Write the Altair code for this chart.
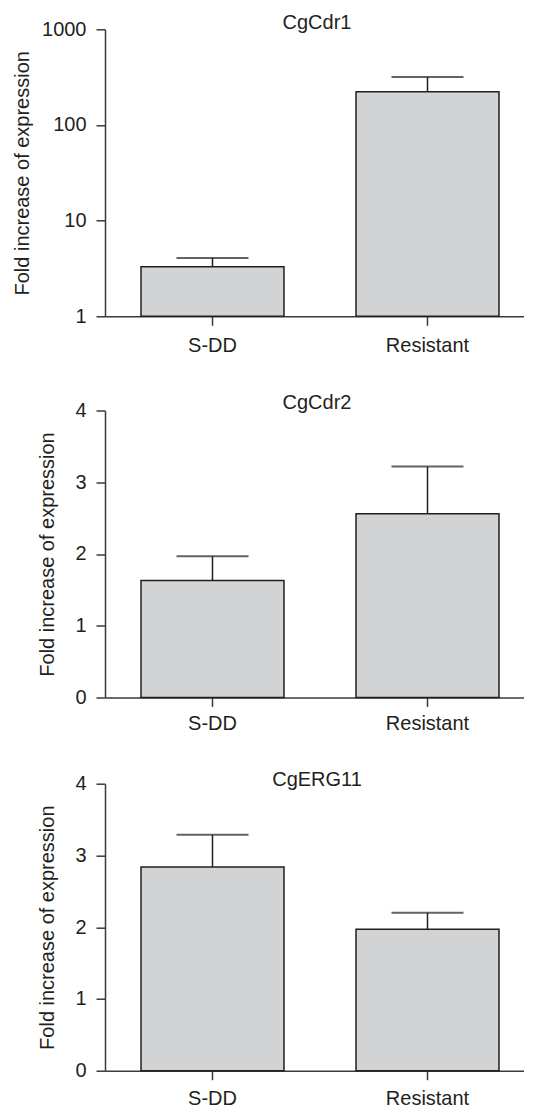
import altair as alt
import pandas as pd

groups = ["S-DD", "Resistant"]
genes = ["CgCdr1", "CgCdr2", "CgERG11"]
cdr1_mean = [3.3, 222]
cdr1_upper = [4.07, 317]
cdr2_mean = [1.63, 2.56]
cdr2_upper = [1.97, 3.22]
erg11_mean = [2.84, 1.97]
erg11_upper = [3.29, 2.20]
log_ticks = [1, 10, 100, 1000]
lin_ticks = [0, 1, 2, 3, 4]
y_title = "Fold increase of expression"

FONT = "Liberation Sans"
INK = "#231f20"
FILL = "#d1d3d4"
PLOT_W = 419


def panel(gene, means, uppers, log, title_pad, title_offset, xlab_pad):
    df = pd.DataFrame({"group": groups, "mean": means, "upper": uppers})
    if log:
        scale = alt.Scale(type="log", domain=[1, 1000], nice=False)
        ticks = log_ticks
        base_val = 1
    else:
        scale = alt.Scale(domain=[0, 4], nice=False, zero=True)
        ticks = lin_ticks
        base_val = 0
    yaxis = alt.Axis(values=ticks, format="d", title=y_title, titlePadding=title_pad,
                     tickSize=9, labelPadding=10)
    x = alt.X("group:N", sort=groups,
              scale=alt.Scale(paddingInner=0.335, paddingOuter=0.1419, align=0.59),
              axis=alt.Axis(title=None, labelAngle=0, tickSize=9, labelPadding=xlab_pad))
    base = alt.Chart(df)
    bars = base.mark_bar(fill=FILL, stroke=INK, strokeWidth=1.5).encode(
        x=x,
        y=alt.Y("mean:Q", scale=scale, axis=yaxis),
        y2=alt.datum(base_val),
    )
    err = base.mark_rule(color=INK, strokeWidth=1.5).encode(
        x=x,
        y=alt.Y("mean:Q", scale=scale, axis=yaxis),
        y2="upper:Q",
    )
    cap = base.mark_tick(color=INK, thickness=2, size=72).encode(
        x=x,
        y=alt.Y("upper:Q", scale=scale, axis=yaxis),
    )
    return alt.layer(bars, err, cap).properties(
        width=PLOT_W, height=287,
        title=alt.TitleParams(gene, fontSize=20, font=FONT, fontWeight="normal",
                              color=INK, baseline="alphabetic", offset=title_offset, dx=2.5),
    )


p1 = panel(genes[0], cdr1_mean, cdr1_upper, True, 9, -30, 10.4)
p2 = panel(genes[1], cdr2_mean, cdr2_upper, False, 17, -28.2, 6.6)
p3 = panel(genes[2], erg11_mean, erg11_upper, False, 17, -32.2, 8.5)

chart = alt.vconcat(p1, p2, p3, spacing=36.2).properties(
    padding={"left": 4, "top": 5.3, "right": 0, "bottom": 0}
).configure_view(stroke=None).configure_axis(
    grid=False,
    domainColor="#3a3a3a", domainWidth=1.5,
    tickColor="#3a3a3a", tickWidth=1.5,
    labelFont=FONT, labelFontSize=20, labelColor=INK,
    titleFont=FONT, titleFontSize=20, titleFontWeight="normal", titleColor=INK,
)

chart.save("out.html", embed_options={"renderer": "svg", "actions": False})
